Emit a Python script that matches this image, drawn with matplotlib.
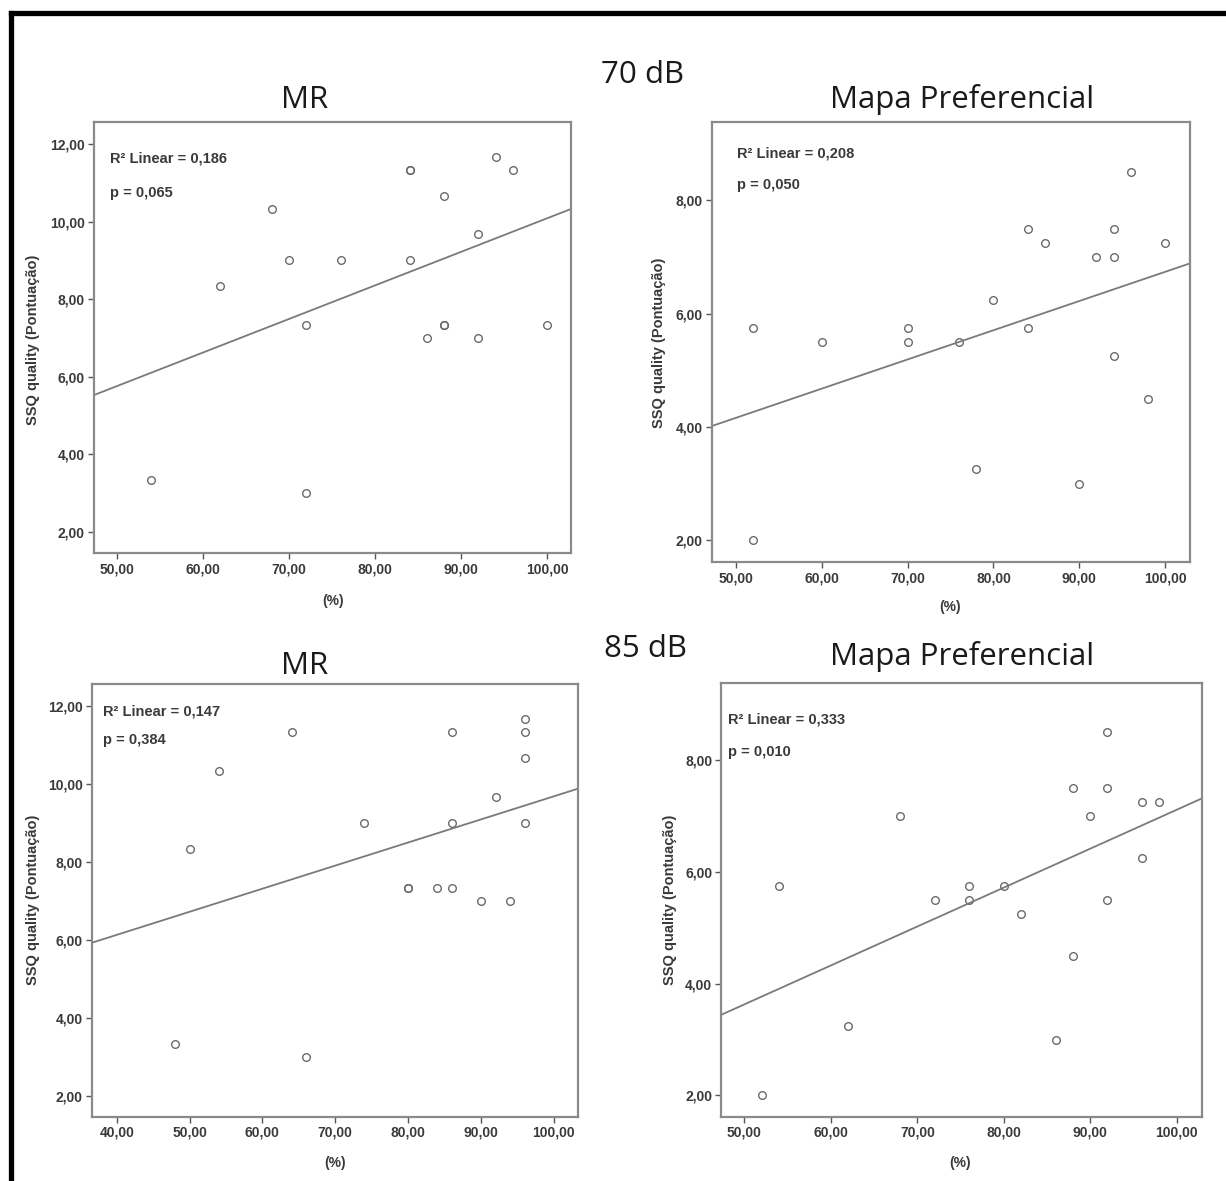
import numpy as np
import matplotlib.pyplot as plt
from matplotlib.ticker import FuncFormatter
from matplotlib.lines import Line2D

W, H = 1226, 1181

# %% Data
mr70_x = [54, 62, 68, 70, 72, 72, 76, 84, 84, 84, 86, 88, 88, 88, 92, 92, 94, 96, 100]
mr70_y = [3.33, 8.33, 10.33, 9.0, 7.33, 3.0, 9.0, 11.33, 11.33, 9.0, 7.0, 10.67, 7.33, 7.33,
          9.67, 7.0, 11.67, 11.33, 7.33]

mp70_x = [52, 52, 60, 70, 70, 76, 78, 80, 84, 84, 86, 90, 92, 94, 94, 94, 96, 98, 100]
mp70_y = [5.75, 2.0, 5.5, 5.75, 5.5, 5.5, 3.25, 6.25, 7.5, 5.75, 7.25, 3.0, 7.0, 7.5, 7.0,
          5.25, 8.5, 4.5, 7.25]

mr85_x = [48, 50, 54, 64, 66, 74, 80, 80, 84, 86, 86, 86, 90, 92, 94, 96, 96, 96, 96]
mr85_y = [3.33, 8.33, 10.33, 11.33, 3.0, 9.0, 7.33, 7.33, 7.33, 11.33, 9.0, 7.33, 7.0, 9.67,
          7.0, 11.67, 11.33, 10.67, 9.0]

mp85_x = [52, 54, 62, 68, 72, 76, 76, 80, 82, 86, 88, 88, 90, 92, 92, 92, 96, 96, 98]
mp85_y = [2.0, 5.75, 3.25, 7.0, 5.5, 5.75, 5.5, 5.75, 5.25, 3.0, 7.5, 4.5, 7.0, 8.5, 7.5,
          5.5, 7.25, 6.25, 7.25]

r2_labels = ['0,186', '0,208', '0,147', '0,333']
p_labels = ['0,065', '0,050', '0,384', '0,010']
titles = ['MR', 'Mapa Preferencial', 'MR', 'Mapa Preferencial']
level_labels = ['70 dB', '85 dB']


def fx(x):
    return x / W


def fy(y):
    return 1 - y / H


def comma(v, pos):
    return ('%.2f' % v).replace('.', ',')


fig = plt.figure(figsize=(W / 100, H / 100), dpi=100)
fig.patch.set_facecolor('white')

# outer black frame (left and top only visible)
fig.add_artist(Line2D([fx(10.5), fx(10.5)], [fy(1300), fy(12.5)], color='black', lw=3.8,
                      transform=fig.transFigure, solid_capstyle='projecting'))
fig.add_artist(Line2D([fx(10.5), fx(1300)], [fy(12.5), fy(12.5)], color='black', lw=3.8,
                      transform=fig.transFigure, solid_capstyle='projecting'))

# (left, top, right, bottom) in pixels, x limits, y limits, yticks, xticks
panels = [
    (mr70_x, mr70_y, (93.8, 122.3, 571.4, 553.3), (47.3, 102.8), (1.44, 12.56), [2, 4, 6, 8, 10, 12],
     [50, 60, 70, 80, 90, 100]),
    (mp70_x, mp70_y, (711.6, 122.3, 1190, 562.3), (47.16, 102.9), (1.61, 9.38), [2, 4, 6, 8],
     [50, 60, 70, 80, 90, 100]),
    (mr85_x, mr85_y, (91.8, 684.3, 577.9, 1116.7), (36.58, 103.3), (1.47, 12.55), [2, 4, 6, 8, 10, 12],
     [40, 50, 60, 70, 80, 90, 100]),
    (mp85_x, mp85_y, (721.3, 682.7, 1201.7, 1116.7), (47.32, 102.9), (1.62, 9.38), [2, 4, 6, 8],
     [50, 60, 70, 80, 90, 100]),
]

text_pos = [(110, 158, 193), (737, 153, 185), (103, 711, 740), (728, 720, 752)]
ylab_pos = [(33, 340), (659, 343), (33, 900), (670, 900)]
xlab_pos = [(333, 601), (950, 607), (335, 1163), (960, 1163)]
title_pos = [(305, 108), (962, 108), (305, 674), (962, 665)]
level_pos = [(643, 83), (645, 657)]

small = dict(family='Liberation Sans', weight='bold', color='#3a3a3a')
grey = '#8a8a8a'
for i, (xs, ys, box, xl, yl, yt, xt) in enumerate(panels):
    l, t, r, b = box
    ax = fig.add_axes([fx(l), fy(b), (r - l) / W, (b - t) / H])
    xs = np.array(xs, dtype=float)
    ys = np.array(ys, dtype=float)
    ax.plot(xs, ys, 'o', ms=5.5, mfc='none', mec='#6a6a6a', mew=1.0)
    k, c = np.polyfit(xs, ys, 1)
    xx = np.array(xl)
    ax.plot(xx, k * xx + c, color='#7a7a7a', lw=1.3)
    ax.set_xlim(xl)
    ax.set_ylim(yl)
    ax.set_xticks(xt)
    ax.set_yticks(yt)
    ax.xaxis.set_major_formatter(FuncFormatter(comma))
    ax.yaxis.set_major_formatter(FuncFormatter(comma))
    ax.tick_params(direction='out', length=4.5, width=1.0, color='#555555', labelsize=10,
                   labelcolor='#3a3a3a', pad=2)
    for tl in ax.get_xticklabels() + ax.get_yticklabels():
        tl.set_family('Liberation Sans')
        tl.set_weight('bold')
    for s in ax.spines.values():
        s.set_color(grey)
        s.set_linewidth(1.6)

    tx, ty1, ty2 = text_pos[i]
    fig.text(fx(tx), fy(ty1), 'R² Linear = ' + r2_labels[i], fontsize=10.5,
             va='center', ha='left', **small)
    fig.text(fx(tx), fy(ty2), 'p = ' + p_labels[i], fontsize=10.5,
             va='center', ha='left', **small)
    yx, yy = ylab_pos[i]
    fig.text(fx(yx), fy(yy), 'SSQ quality (Pontuação)', fontsize=10.5,
             rotation=90, ha='center', va='center', **small)
    xx_, xy_ = xlab_pos[i]
    fig.text(fx(xx_), fy(xy_), '(%)', fontsize=10, ha='center', va='center', **small)
    tx_, ty_ = title_pos[i]
    fig.text(fx(tx_), fy(ty_), titles[i], family='Open Sans', fontsize=22.5, color='#1a1a1a',
             ha='center', va='baseline')

for (lx, ly), lab in zip(level_pos, level_labels):
    fig.text(fx(lx), fy(ly), lab, family='Open Sans', fontsize=22.5, color='#1a1a1a',
             ha='center', va='baseline')

plt.savefig('out.png', dpi=100)
